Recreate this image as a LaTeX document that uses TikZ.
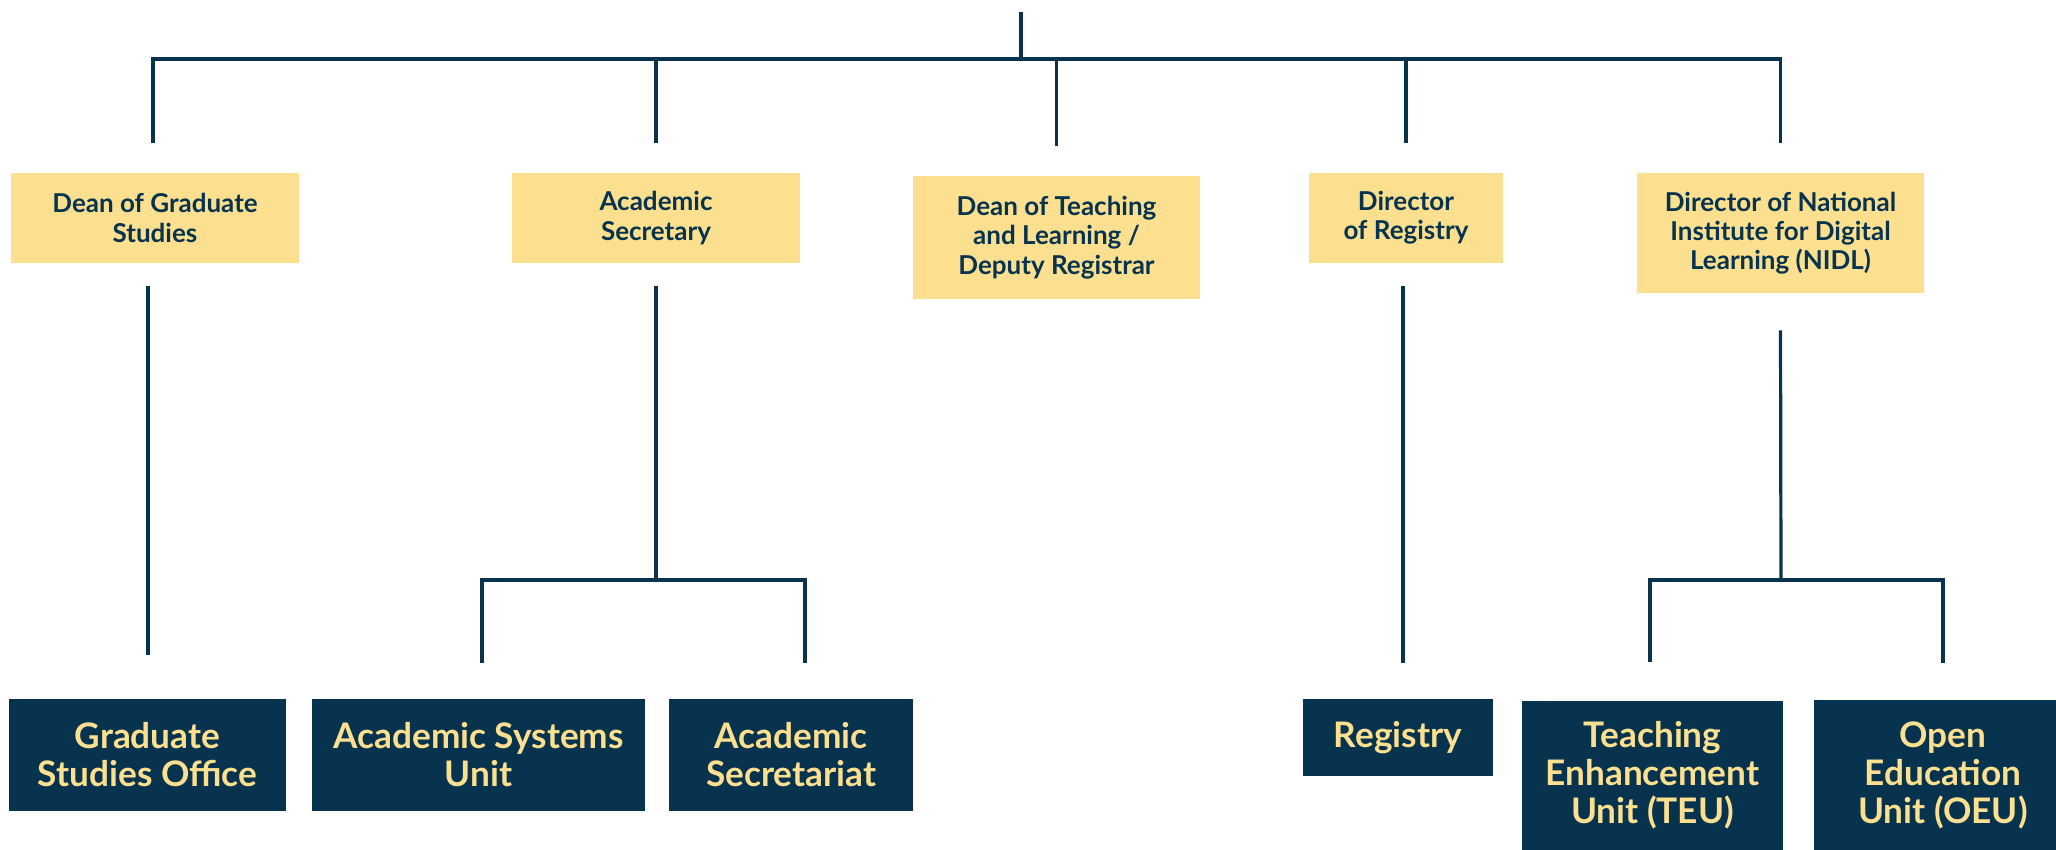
\documentclass[tikz,border=0pt]{standalone}
\usepackage{fontspec}
\setmainfont{Lato}
\usetikzlibrary{positioning, calc}
\definecolor{navy}{HTML}{07334F}
\definecolor{sand}{HTML}{FCE08F}

\begin{document}
\begin{tikzpicture}[x=0.5pt, y=-0.5pt,
  lead/.style={fill=sand, text=navy, align=center, inner sep=0pt,
    font=\fontsize{13}{14.6}\selectfont\bfseries},
  unit/.style={fill=navy, text=sand, align=center, inner sep=0pt,
    font=\fontsize{17.6}{19}\selectfont\bfseries},
  link/.style={draw=navy, line width=1.6pt}]
\useasboundingbox (0,0) rectangle (2056,850);
\clip (0,0) rectangle (2056,850);

% Heads
\node[lead, minimum width=144pt, minimum height=45pt] (dgs) at (155,218) {Dean of Graduate\\Studies};
\node[lead, minimum width=144pt, minimum height=45pt] (acs) at (656,218) {Academic\\Secretary};
\node[lead, minimum width=143.5pt, minimum height=61.5pt] (dtl) at (1056.5,237.5) {Dean of Teaching\\and Learning /\\Deputy Registrar};
\node[lead, minimum width=97pt, minimum height=45pt] (dor) at (1406,218) {Director\\of Registry};
\node[lead, minimum width=143.5pt, minimum height=60pt] (nidl) at (1780.5,233) {Director of National\\Institute for Digital\\Learning (NIDL)};

% Units
\node[unit, minimum width=138.5pt, minimum height=56pt] (gso) at (147.5,755) {Graduate\\Studies Office};
\node[unit, minimum width=166.5pt, minimum height=56pt] (asu) at (478.5,755) {Academic Systems\\Unit};
\node[unit, minimum width=122pt, minimum height=56pt] (asec) at (791,755) {Academic\\Secretariat};
\node[unit, minimum width=95pt, minimum height=38.5pt] (reg) at (1398,737.5) {Registry};
\node[unit, minimum width=130.5pt, minimum height=75pt] (teu) at (1652.5,775.5) {Teaching\\Enhancement\\Unit (TEU)};
\node[unit, minimum width=129pt, minimum height=75pt] (oeu) at (1943,775) {Open\\Education\\Unit (OEU)};

% Top bus
\coordinate (top) at (1021,12);
\coordinate (bus) at (1021,59);
\draw[link] (top) -- (bus);
\draw[link] ($(dgs.north)+(-2,-30)$) |- (nidl.north |- bus) -- ($(nidl.north)+(0,-30)$);
\foreach \h in {acs,dtl,dor}
  \draw[link] (\h.north |- bus) -- ($(\h.north)+(0,-30)$);

% Lower links
\coordinate (acsbus) at (656,580);
\coordinate (nidlbus) at (1781,580);
\draw[link] ($(dgs.south)+(-7,23)$) -- ($(gso.north)+(0.5,-44)$);
\draw[link] ($(acs.south)+(0,23)$) -- (acsbus);
\draw[link] ($(asu.north)+(3.5,-36)$) |- (acsbus) -| ($(asec.north)+(14,-36)$);
\draw[link] ($(dor.south)+(-3,23)$) -- ($(reg.north)+(5,-36)$);
\draw[link] ($(nidl.south)+(0,37)$) -- (nidlbus);
\draw[link] ($(teu.north)+(-2.5,-38)$) |- (nidlbus) -| ($(oeu.north)+(0,-37)$);
\end{tikzpicture}
\end{document}
